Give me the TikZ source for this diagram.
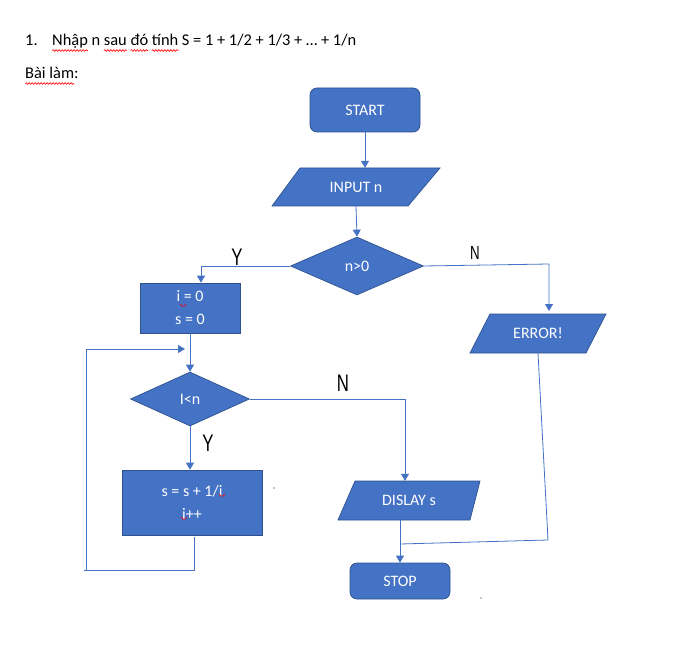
\documentclass[tikz,border=0pt]{standalone}
\usepackage{fontspec}
\setmainfont{Carlito}
\newfontfamily\hand[FakeStretch=0.7]{Liberation Sans}
\usetikzlibrary{shapes.geometric,arrows.meta,calc,decorations.pathmorphing}
\definecolor{fc}{HTML}{4472C4}
\definecolor{bc}{HTML}{2F528F}
\definecolor{lc}{HTML}{4472C4}
\newcommand\spellmark[1]{\setbox0=\hbox{#1}\leavevmode\rlap{\tikz[baseline=0pt,x=1pt,y=1pt]{\useasboundingbox (0,0); \draw[red,line width=0.6pt,decorate,decoration={snake,segment length=3pt,amplitude=0.9pt}] (0,-4.5) -- (\the\wd0,-4.5);}}#1}
\begin{document}
\begin{tikzpicture}[x=1pt,y=-1pt,
 base/.style={fill=fc,draw=bc,line width=0.7pt,text=white,font=\fontsize{16}{23}\selectfont,inner sep=0pt,align=center},
 term/.style={base,rectangle,rounded corners=7pt},
 proc/.style={base,rectangle},
 dec/.style={base,diamond},
 para/.style={fill=fc,draw=bc,line width=0.7pt},
 iotext/.style={rectangle,text=white,font=\fontsize{16}{23}\selectfont,inner sep=0pt,align=center},
 conn/.style={draw=lc,line width=0.8pt},
 arr/.style={conn,-{Triangle[width=8pt,length=7pt]}},
 lbl/.style={font=\hand\fontsize{24}{24}\selectfont,inner sep=0pt},
 txt/.style={font=\fontsize{16.4}{19}\selectfont,inner sep=0pt,anchor=base west},
]
\useasboundingbox[fill=white] (0,0) rectangle (683,655);

% header text
\node[txt] (num) at (25,46) {1.};
\node[txt] (title) at (52,46) {\spellmark{Nhập} n \spellmark{sau} \spellmark{đó} \spellmark{tính} S = 1 + 1/2 + 1/3 + … + 1/n};
\node[txt] (bailam) at (25,79) {\spellmark{Bài làm}:};

% shapes
\node[term,minimum width=110,minimum height=44] (start) at (365,110) {START};

\draw[para] (300,168) -- (440,168) -- (408,206) -- (272,206) -- cycle;
\node[iotext,minimum width=120,minimum height=38] (input) at (356,187) {INPUT n};

\node[dec,minimum width=133,minimum height=58] (dec1) at (357,266) {n>0};

\node[proc,minimum width=100,minimum height=50] (box1) at (190,308) {i = 0\\s = 0};

\draw[para] (490,314) -- (606,314) -- (586,353) -- (470,353) -- cycle;
\node[iotext,minimum width=96,minimum height=39] (err) at (538,333.5) {ERROR!};

\node[dec,minimum width=119,minimum height=54] (dec2) at (190,399) {I<n};

\node[proc,minimum width=140,minimum height=65] (box2) at (192,502.5) {s = s + 1/i\\i++};

\draw[para] (355,481) -- (480,481) -- (470,520) -- (338,520) -- cycle;
\node[iotext,minimum width=110,minimum height=39] (disp) at (409,500.5) {DISLAY s};

\node[term,minimum width=100,minimum height=36] (stop) at (400,581) {STOP};

% red spell marks in shapes
\draw[red,line width=0.6pt] (180,304) .. controls (182,307) and (184,307) .. (186,304);
\draw[red,line width=0.6pt] (219,494) .. controls (221,497) and (223,497) .. (225,494);
\draw[red,line width=0.6pt] (181,517) .. controls (183,520) and (185,520) .. (187,517);

% connectors
\draw[arr] (start.south) -- (start.south |- input.north);
\draw[arr] (input.south) -- (dec1.north);

\coordinate (y1) at (201,266);
\draw[arr] (dec1.west) -- (y1) -- (y1 |- box1.north);
\node[lbl] (ylab1) at (237,257) {Y};

\coordinate (n1) at (549,264);
\draw[arr] (dec1.east) -- (n1) -- (549,311);
\node[lbl,font=\hand\fontsize{19}{19}\selectfont] (nlab1) at (475,253) {N};

\draw[arr] (box1.south) -- (dec2.north);

\coordinate (n2) at (405,399);
\draw[arr] (dec2.east) -- (n2) -- (n2 |- disp.north);
\node[lbl] (nlab2) at (343,383) {N};

\draw[arr] (dec2.south) -- (dec2.south |- box2.north);
\node[lbl] (ylab2) at (208,443) {Y};

\coordinate (l1) at (194,570);
\coordinate (l2) at (84,570);
\coordinate (l3) at (86,349);
\coordinate (l4) at (185,349);
\draw[conn] (194,537) -- (l1) -- (l2);
\draw[arr] (86,570) -- (l3) -- (l4);

\draw[arr] (disp.south -| stop.north) -- (stop.north);

\coordinate (e1) at (548,540);
\draw[conn] (err.south) -- (e1) -- (400,544);

% stray dots
\fill (274,488) circle (0.6);
\fill (481,598) circle (0.6);
\end{tikzpicture}
\end{document}
